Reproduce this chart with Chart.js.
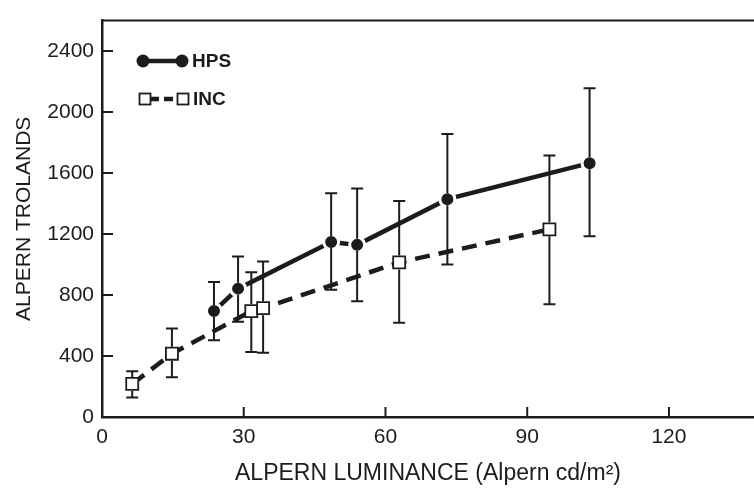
<!DOCTYPE html>
<html>
<head>
<meta charset="utf-8">
<script src="https://cdn.jsdelivr.net/npm/chart.js@4.4.0/dist/chart.umd.min.js"></script>
<style>
  body { margin: 0; background: #fff; }
  #wrap { width: 754px; height: 496px; }
</style>
</head>
<body>
<div id="wrap"><canvas id="chart" width="754" height="496"></canvas></div>
<script>
// values
const hpsX    = [23.7, 28.8, 48.5, 54.0, 73.1, 103.2];
const hpsY    = [695, 842, 1148, 1129, 1429, 1665];
const hpsHigh = [886, 1052, 1467, 1499, 1856, 2156];
const hpsLow  = [504, 625, 835, 759, 1001, 1186];

const incX    = [6.4, 14.8, 31.6, 34.1, 62.9, 94.7];
const incY    = [217, 415, 695, 714, 1014, 1231];
const incHigh = [300, 580, 950, 1020, 1416, 1716];
const incLow  = [128, 261, 427, 421, 619, 740];

const xTicks = [0, 30, 60, 90, 120];
const yTicks = [0, 400, 800, 1200, 1600, 2000, 2400];

const INK = '#1c1c1c';
const FONT = "'Liberation Sans', Arial, Helvetica, sans-serif";

function toPoints(xs, ys) {
  return xs.map((x, i) => ({ x: x, y: ys[i] }));
}

// error bars, drawn after the lines, leaving the marker interior alone
const errorBars = {
  id: 'errorBars',
  afterDatasetsDraw(chart) {
    const ctx = chart.ctx;
    const xs = chart.scales.x, ys = chart.scales.y;
    const sets = [
      { x: hpsX, y: hpsY, hi: hpsHigh, lo: hpsLow, gap: 6 },
      { x: incX, y: incY, hi: incHigh, lo: incLow, gap: 7 }
    ];
    ctx.save();
    ctx.strokeStyle = INK;
    ctx.lineWidth = 2;
    sets.forEach(s => {
      s.x.forEach((xv, i) => {
        const px = xs.getPixelForValue(xv);
        const py = ys.getPixelForValue(s.y[i]);
        const top = ys.getPixelForValue(s.hi[i]);
        const bot = ys.getPixelForValue(s.lo[i]);
        ctx.beginPath();
        ctx.moveTo(px, top); ctx.lineTo(px, py - s.gap);
        ctx.moveTo(px, py + s.gap); ctx.lineTo(px, bot);
        ctx.moveTo(px - 6, top); ctx.lineTo(px + 6, top);
        ctx.moveTo(px - 6, bot); ctx.lineTo(px + 6, bot);
        ctx.stroke();
      });
    });
    ctx.restore();
  }
};

// top frame line, inward tick marks and the legend
const frame = {
  id: 'frame',
  afterDraw(chart) {
    const ctx = chart.ctx;
    const a = chart.chartArea;
    const xs = chart.scales.x, ys = chart.scales.y;
    ctx.save();
    ctx.strokeStyle = INK;
    ctx.lineWidth = 2;
    ctx.beginPath();
    ctx.moveTo(a.left - 1, a.top);
    ctx.lineTo(a.right, a.top);
    ctx.stroke();

    ctx.beginPath();
    xTicks.forEach(v => {
      if (v === 0) return;
      const px = xs.getPixelForValue(v);
      ctx.moveTo(px, a.bottom); ctx.lineTo(px, a.bottom - 10);
    });
    yTicks.forEach(v => {
      if (v === 0) return;
      const py = ys.getPixelForValue(v);
      ctx.moveTo(a.left, py); ctx.lineTo(a.left + 11, py);
    });
    ctx.stroke();

    // legend
    ctx.lineWidth = 4.5;
    ctx.beginPath();
    ctx.moveTo(143, 61); ctx.lineTo(182, 61);
    ctx.stroke();
    ctx.fillStyle = INK;
    [143, 182].forEach(cx => {
      ctx.beginPath(); ctx.arc(cx, 61, 6.5, 0, Math.PI * 2); ctx.fill();
    });
    ctx.setLineDash([9, 5]);
    ctx.beginPath();
    ctx.moveTo(150, 99); ctx.lineTo(177, 99);
    ctx.stroke();
    ctx.setLineDash([]);
    ctx.lineWidth = 1.8;
    ctx.fillStyle = '#fff';
    [145, 183].forEach(cx => {
      ctx.fillRect(cx - 5.5, 93.5, 11, 11);
      ctx.strokeRect(cx - 5.5, 93.5, 11, 11);
    });
    ctx.fillStyle = INK;
    ctx.font = 'bold 19px ' + FONT;
    ctx.textBaseline = 'middle';
    ctx.fillText('HPS', 192, 62);
    ctx.fillText('INC', 193, 100);
    ctx.restore();
  }
};

new Chart(document.getElementById('chart'), {
  type: 'line',
  data: {
    datasets: [
      {
        label: 'HPS',
        data: toPoints(hpsX, hpsY),
        borderColor: INK,
        borderWidth: 4.5,
        pointStyle: 'circle',
        pointRadius: 7.5,
        pointBackgroundColor: INK,
        pointBorderColor: '#fff',
        pointBorderWidth: 3
      },
      {
        label: 'INC',
        data: toPoints(incX, incY),
        borderColor: INK,
        borderWidth: 4.5,
        borderDash: [15, 9],
        pointStyle: 'rect',
        pointRadius: 8.5,
        pointBackgroundColor: '#fff',
        pointBorderColor: INK,
        pointBorderWidth: 1.8
      }
    ]
  },
  options: {
    responsive: false,
    animation: false,
    devicePixelRatio: 1,
    layout: { autoPadding: false, padding: { top: 10, right: 0, left: 0, bottom: 0 } },
    plugins: {
      legend: { display: false },
      tooltip: { enabled: false }
    },
    scales: {
      x: {
        type: 'linear',
        min: 0,
        max: 138,
        afterFit: s => { s.height = 79; },
        afterBuildTicks: s => { s.ticks = xTicks.map(v => ({ value: v })); },
        grid: { display: true, drawOnChartArea: false, drawTicks: false },
        border: { display: true, color: INK, width: 2.5 },
        ticks: { color: INK, font: { family: FONT, size: 21 }, padding: 8, maxRotation: 0,
                 callback: v => String(v) },
        title: {
          display: true,
          text: 'ALPERN LUMINANCE (Alpern cd/m²)',
          color: INK,
          font: { family: FONT, size: 23 },
          padding: { top: 0, bottom: 9 }
        }
      },
      y: {
        min: 0,
        max: 2600,
        afterFit: s => { s.width = 102; },
        afterBuildTicks: s => { s.ticks = yTicks.map(v => ({ value: v })); },
        grid: { display: true, drawOnChartArea: false, drawTicks: false },
        border: { display: true, color: INK, width: 2.5 },
        ticks: { color: INK, font: { family: FONT, size: 21 }, padding: 8,
                 callback: v => String(v) },
        title: {
          display: true,
          text: 'ALPERN TROLANDS',
          color: INK,
          font: { family: FONT, size: 21 },
          padding: { top: 12, bottom: 0 }
        }
      }
    }
  },
  plugins: [errorBars, frame]
});
</script>
</body>
</html>
